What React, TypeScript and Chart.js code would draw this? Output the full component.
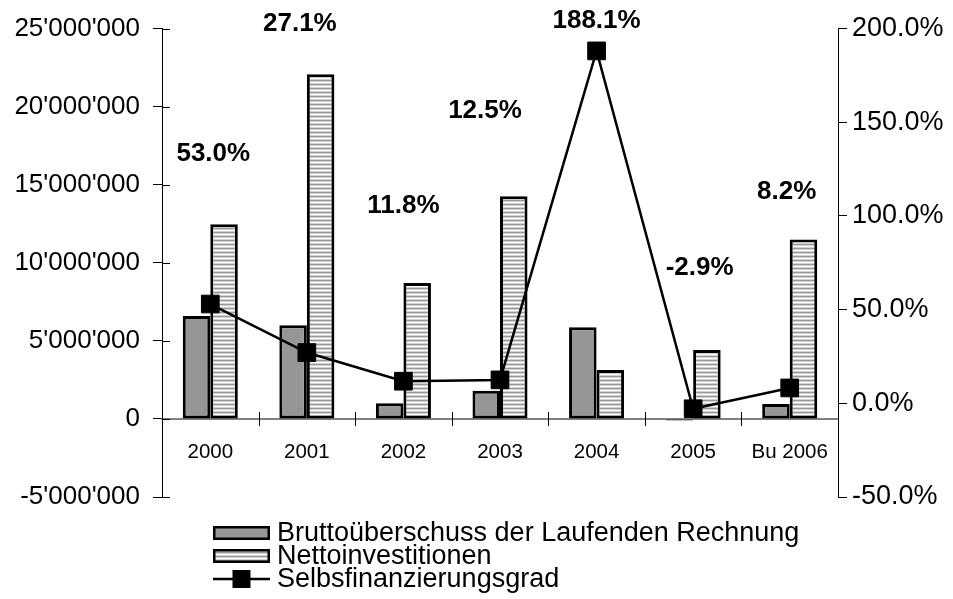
import React, { useEffect, useRef } from 'react';
import { Chart, registerables } from 'chart.js';

Chart.register(...registerables);

const categories = ['2000', '2001', '2002', '2003', '2004', '2005', 'Bu 2006'];
const bruttoValues = [6600000, 6000000, 1000000, 1800000, 5880000, -100000, 960000];
const nettoValues = [12470000, 22070000, 8700000, 14260000, 3130000, 4410000, 11500000];
const selbstValues = [53.0, 27.1, 11.8, 12.5, 188.1, -2.9, 8.2];
const seriesNames = ['Bruttoüberschuss der Laufenden Rechnung', 'Nettoinvestitionen', 'Selbsfinanzierungsgrad'];

const leftMin = -5000000;
const leftMax = 25000000;
const leftStep = 5000000;
const rightMin = -50;
const rightMax = 200;
const rightStep = 50;

// where the percentage labels sit (right-axis units) and their horizontal nudge
const labelAnchorPct = [133.3, 202.6, 105.5, 156.2, 204.2, 72.2, 113];
const labelOffsetX = [3, -7, 0, -15, 0, 6.5, -3];

const FONT = "'Liberation Sans', Arial, Helvetica, sans-serif";

function fmtLeft(v: number): string {
  return Math.round(v).toString().replace(/\B(?=(\d{3})+(?!\d))/g, "'");
}
function fmtPct(v: number): string {
  return v.toFixed(1) + '%';
}

function makeStripes(): CanvasPattern | string {
  const c = document.createElement('canvas');
  c.width = 4;
  c.height = 4;
  const g = c.getContext('2d');
  if (!g) return '#d0d0d0';
  const rows = ['#999999', '#d0d0d0', '#ffffff', '#d0d0d0'];
  rows.forEach((col, i) => {
    g.fillStyle = col;
    g.fillRect(0, i, 4, 1);
  });
  const p = g.createPattern(c, 'repeat');
  return p || '#d0d0d0';
}

export default function App() {
  const ref = useRef<HTMLCanvasElement | null>(null);

  useEffect(() => {
    const canvas = ref.current;
    if (!canvas) return;
    const stripes = makeStripes();
    const grayFill = '#969696';

    const decor = {
      id: 'decor',
      afterDraw(chart: any) {
        const ctx = chart.ctx as CanvasRenderingContext2D;
        const xs = chart.scales.x;
        const ys = chart.scales.y;
        const ys1 = chart.scales.y1;
        const area = chart.chartArea;
        const zeroY = ys.getPixelForValue(0);
        ctx.save();
        // crossing tick marks on category axis
        ctx.strokeStyle = '#000';
        ctx.lineWidth = 1;
        for (let i = 1; i < categories.length; i++) {
          const px = Math.round((xs.getPixelForValue(i - 1) + xs.getPixelForValue(i)) / 2) + 0.5;
          ctx.beginPath();
          ctx.moveTo(px, zeroY - 7);
          ctx.lineTo(px, zeroY + 7);
          ctx.stroke();
        }
        // inward part of left axis ticks
        for (let v = leftMin; v <= leftMax; v += leftStep) {
          const py = Math.round(ys.getPixelForValue(v)) + 0.5;
          ctx.beginPath();
          ctx.moveTo(area.left, py);
          ctx.lineTo(area.left + 8, py);
          ctx.stroke();
        }
        // percentage labels
        ctx.fillStyle = '#000';
        ctx.font = `bold 26px ${FONT}`;
        ctx.textAlign = 'center';
        ctx.textBaseline = 'middle';
        selbstValues.forEach((v, i) => {
          const px = xs.getPixelForValue(i) + labelOffsetX[i];
          const py = ys1.getPixelForValue(labelAnchorPct[i]);
          ctx.fillText(fmtPct(v), px, py);
        });
        // legend
        const lx = 213;
        const bw = 57;
        const bh = 14;
        const rows = [533, 556, 579];
        ctx.font = `27px ${FONT}`;
        ctx.textAlign = 'left';
        ctx.textBaseline = 'middle';
        // row 1
        ctx.fillStyle = grayFill;
        ctx.fillRect(lx, rows[0] - bh / 2, bw, bh);
        ctx.strokeStyle = '#000';
        ctx.lineWidth = 2.5;
        ctx.strokeRect(lx + 1.25, rows[0] - bh / 2 + 1.25, bw - 2.5, bh - 2.5);
        // row 2
        ctx.fillStyle = stripes as any;
        ctx.fillRect(lx, rows[1] - bh / 2, bw, bh);
        ctx.strokeRect(lx + 1.25, rows[1] - bh / 2 + 1.25, bw - 2.5, bh - 2.5);
        // row 3
        ctx.beginPath();
        ctx.moveTo(lx, rows[2]);
        ctx.lineTo(lx + bw, rows[2]);
        ctx.stroke();
        ctx.fillStyle = '#000';
        ctx.fillRect(lx + bw / 2 - 9, rows[2] - 9, 18, 18);
        ctx.fillStyle = '#000';
        seriesNames.forEach((n, i) => {
          ctx.fillText(n, lx + bw + 7, rows[i] + 1);
        });
        ctx.restore();
      },
    };

    const chart = new Chart(canvas, {
      type: 'bar',
      data: {
        labels: categories,
        datasets: [
          {
            type: 'line',
            label: seriesNames[2],
            data: selbstValues,
            yAxisID: 'y1',
            order: 0,
            borderColor: '#000',
            borderWidth: 2.5,
            backgroundColor: '#000',
            pointStyle: 'rect',
            pointRadius: 12.5,
            pointBackgroundColor: '#000',
            pointBorderColor: '#000',
            pointBorderWidth: 1,
            tension: 0,
            fill: false,
          } as any,
          {
            type: 'bar',
            label: seriesNames[0],
            data: bruttoValues,
            yAxisID: 'y',
            order: 1,
            backgroundColor: grayFill,
            borderColor: '#000',
            borderWidth: 3,
            borderSkipped: false,
            categoryPercentage: 0.57,
            barPercentage: 1,
          } as any,
          {
            type: 'bar',
            label: seriesNames[1],
            data: nettoValues,
            yAxisID: 'y',
            order: 2,
            backgroundColor: stripes as any,
            borderColor: '#000',
            borderWidth: 3,
            borderSkipped: false,
            categoryPercentage: 0.57,
            barPercentage: 1,
          } as any,
        ],
      },
      options: {
        responsive: false,
        maintainAspectRatio: false,
        animation: false,
        layout: { padding: { top: 28, bottom: 102, left: 0, right: 0 } },
        plugins: {
          legend: { display: false },
          tooltip: { enabled: false },
        },
        scales: {
          x: {
            position: { y: 0 } as any,
            offset: true,
            grid: { display: true, drawOnChartArea: false, drawTicks: false, color: 'rgba(0,0,0,0)' },
            border: { display: true, color: '#808080', width: 2 },
            ticks: {
              color: '#000',
              font: { family: FONT, size: 20.5 },
              padding: 21,
              maxRotation: 0,
              autoSkip: false,
            },
          },
          y: {
            position: 'left',
            min: leftMin,
            max: leftMax,
            afterFit: (s: any) => {
              s.width = 162;
            },
            grid: { display: true, drawOnChartArea: false, drawTicks: true, tickLength: 9, color: '#000', lineWidth: 1 },
            border: { display: true, color: '#000', width: 1 },
            ticks: {
              stepSize: leftStep,
              color: '#000',
              font: { family: FONT, size: 26 },
              padding: 13,
              callback: (v: any) => fmtLeft(Number(v)),
            },
          },
          y1: {
            position: 'right',
            min: rightMin,
            max: rightMax,
            afterFit: (s: any) => {
              s.width = 115;
            },
            grid: { display: true, drawOnChartArea: false, drawTicks: true, tickLength: 9, color: '#000', lineWidth: 1 },
            border: { display: true, color: '#000', width: 1 },
            ticks: {
              stepSize: rightStep,
              color: '#000',
              font: { family: FONT, size: 27 },
              padding: 5,
              callback: (v: any) => fmtPct(Number(v)),
            },
          },
        },
      },
      plugins: [decor],
    });
    return () => chart.destroy();
  }, []);

  return (
    <div style={{ position: 'absolute', left: 0, top: 0, width: 953, height: 599, background: '#fff' }}>
      <canvas ref={ref} width={953} height={599} style={{ display: 'block', width: 953, height: 599 }} />
    </div>
  );
}
